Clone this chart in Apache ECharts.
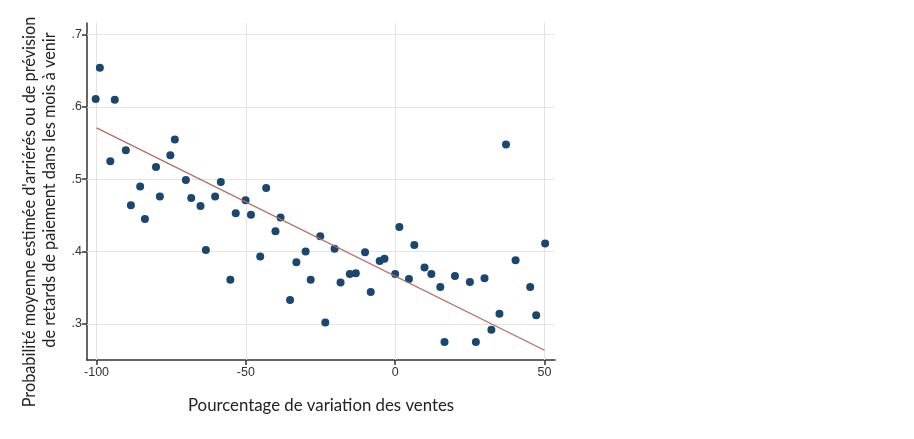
<!DOCTYPE html>
<html>
<head>
  <meta charset="utf-8">
  <title>Ventes et arriérés</title>
  <script src="https://cdn.jsdelivr.net/npm/echarts@6/dist/echarts.min.js"></script>
  <style>
    html, body { margin: 0; padding: 0; background: #fff; }
    #chart { width: 914px; height: 439px; }
  </style>
</head>
<body>
  <div id="chart"></div>
  <script>
    // variation des ventes (%) et probabilité estimée
    var salesChange = [-100.3, -98.9, -93.9, -95.4, -90.2, -88.5, -85.4, -83.8, -80.1, -78.8,
      -75.3, -73.8, -70.1, -68.3, -65.2, -63.4, -60.3, -58.4, -55.2, -53.4,
      -50.1, -48.3, -45.2, -43.2, -40.1, -38.4, -35.2, -33.1, -30.0, -28.3,
      -25.1, -23.4, -20.3, -18.3, -15.2, -13.2, -10.1, -8.2, -5.2, -3.6,
      0.0, 1.4, 4.6, 6.4, 9.8, 12.1, 15.1, 16.5, 20.0, 25.0,
      27.0, 29.9, 32.2, 34.9, 37.1, 40.3, 45.2, 47.2, 50.2];
    var probArrears = [0.611, 0.654, 0.610, 0.525, 0.540, 0.464, 0.490, 0.445, 0.517, 0.476,
      0.533, 0.555, 0.499, 0.474, 0.463, 0.402, 0.476, 0.496, 0.361, 0.453,
      0.471, 0.451, 0.393, 0.488, 0.428, 0.447, 0.333, 0.385, 0.400, 0.361,
      0.421, 0.302, 0.404, 0.357, 0.369, 0.370, 0.399, 0.344, 0.387, 0.390,
      0.369, 0.434, 0.362, 0.409, 0.378, 0.369, 0.351, 0.275, 0.366, 0.358,
      0.275, 0.363, 0.292, 0.314, 0.548, 0.388, 0.351, 0.312, 0.411];
    // droite d'ajustement
    var fitRange = [-100, 50];
    var fitIntercept = 0.366;
    var fitSlope = -0.00205;
    // graduations
    var xTicks = [-100, -50, 0, 50];
    var yTicks = [0.3, 0.4, 0.5, 0.6, 0.7];

    var points = [];
    for (var i = 0; i < salesChange.length; i++) {
      points.push([salesChange[i], probArrears[i]]);
    }
    var fitLine = fitRange.map(function (x) { return [x, fitIntercept + fitSlope * x]; });

    var tickFont = { fontFamily: 'Liberation Sans', fontSize: 12.5, color: '#333' };
    var titleFont = 'Lato';

    var chart = echarts.init(document.getElementById('chart'));
    var option = {
      animation: false,
      grid: { left: 87, right: 359, top: 23, bottom: 79 },
      xAxis: {
        type: 'value',
        min: -103.2,
        max: 53.5,
        axisLine: { show: true, onZero: false, lineStyle: { color: '#333', width: 1.5 } },
        axisTick: { show: true, length: 5, customValues: xTicks, lineStyle: { color: '#333', width: 1.5 } },
        axisLabel: Object.assign({ customValues: xTicks, margin: 6 }, tickFont),
        splitLine: { show: false },
        name: 'Pourcentage de variation des ventes',
        nameLocation: 'middle',
        nameGap: 37,
        nameTextStyle: { fontFamily: titleFont, fontSize: 16.8, color: '#222' }
      },
      yAxis: {
        type: 'value',
        min: 0.25,
        max: 0.716,
        axisLine: { show: true, onZero: false, lineStyle: { color: '#333', width: 1.5 } },
        axisTick: { show: true, length: 5, customValues: yTicks, lineStyle: { color: '#333', width: 1.5 } },
        axisLabel: Object.assign({
          customValues: yTicks,
          margin: 5,
          formatter: function (v) { return String(+v.toFixed(1)).replace(/^0/, ''); }
        }, tickFont),
        splitLine: { show: false }
      },
      graphic: [
        {
          type: 'text', x: 30, y: 212, rotation: Math.PI / 2,
          style: {
            text: "Probabilité moyenne estimée d'arriérés ou de prévision",
            fontFamily: titleFont, fontSize: 16.3, fill: '#222',
            align: 'center', verticalAlign: 'middle'
          }
        },
        {
          type: 'text', x: 50, y: 190, rotation: Math.PI / 2,
          style: {
            text: 'de retards de paiement dans les mois à venir',
            fontFamily: titleFont, fontSize: 16.3, fill: '#222',
            align: 'center', verticalAlign: 'middle'
          }
        }
      ],
      series: [
        {
          // quadrillage
          type: 'line',
          data: [],
          z: 1,
          silent: true,
          markLine: {
            silent: true,
            z: 1,
            symbol: 'none',
            label: { show: false },
            lineStyle: { color: '#e4e4e4', width: 1, type: 'solid' },
            data: xTicks.map(function (v) { return { xAxis: v }; })
              .concat(yTicks.map(function (v) { return { yAxis: v }; }))
          }
        },
        {
          type: 'scatter',
          data: points,
          symbol: 'circle',
          symbolSize: 8,
          z: 3,
          itemStyle: { color: '#1a476f', opacity: 1 }
        },
        {
          type: 'line',
          data: fitLine,
          symbol: 'none',
          z: 4,
          lineStyle: { color: '#b86b60', width: 1.3 }
        }
      ]
    };
    chart.setOption(option);
  </script>
</body>
</html>
